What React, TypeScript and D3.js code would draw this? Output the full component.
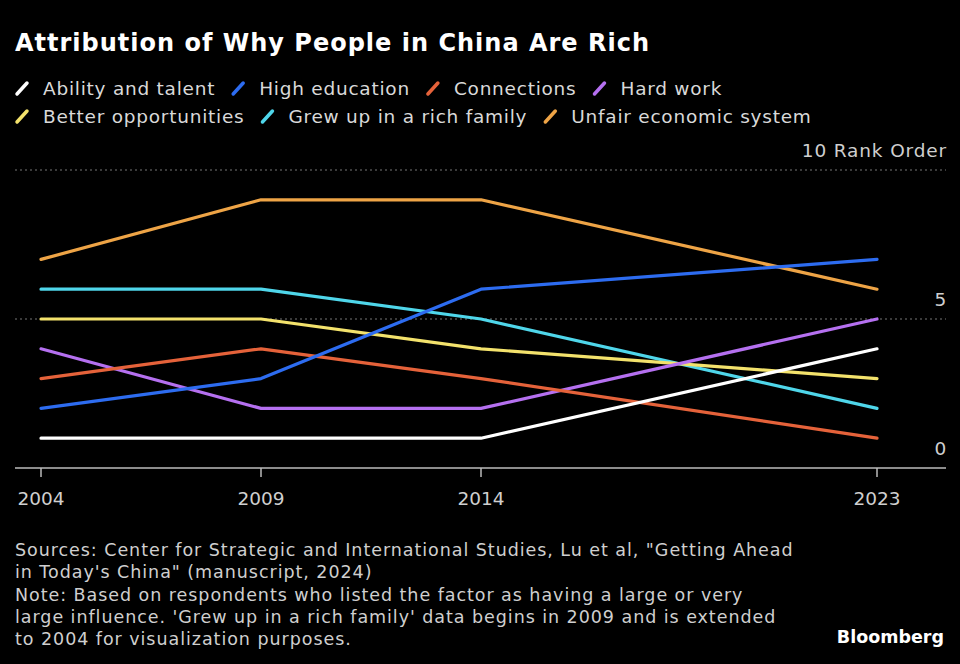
import React, { useEffect, useRef } from "react";
import * as d3 from "d3";

const years = [2004, 2009, 2014, 2023];
const seriesNames = [
  "Ability and talent",
  "High education",
  "Connections",
  "Hard work",
  "Better opportunities",
  "Grew up in a rich family",
  "Unfair economic system",
];
const seriesColors = ["#ffffff", "#2d6cf0", "#e5623a", "#b570f0", "#f3e26c", "#4fd6ea", "#eea446"];
const ability = [1, 1, 1, 4];
const education = [2, 3, 6, 7];
const connections = [3, 4, 3, 1];
const hardWork = [4, 2, 2, 5];
const betterOpp = [5, 5, 4, 3];
const richFamily = [6, 6, 5, 2];
const unfair = [7, 9, 9, 6];
const yTicks = [0, 5, 10];
const legendRows = [[0, 1, 2, 3], [4, 5, 6]];

const title = "Attribution of Why People in China Are Rich";
const notes = [
  "Sources: Center for Strategic and International Studies, Lu et al, \"Getting Ahead",
  "in Today's China\" (manuscript, 2024)",
  "Note: Based on respondents who listed the factor as having a large or very",
  "large influence. 'Grew up in a rich family' data begins in 2009 and is extended",
  "to 2004 for visualization purposes.",
];

const W = 960;
const H = 664;
const FONT = "'DejaVu Sans', sans-serif";

export default function App() {
  const ref = useRef<SVGSVGElement>(null);
  useEffect(() => {
    const svg = d3.select(ref.current);
    svg.selectAll("*").remove();
    const values = [ability, education, connections, hardWork, betterOpp, richFamily, unfair];

    svg.append("rect").attr("width", W).attr("height", H).attr("fill", "#000");

    svg.append("text").attr("x", 15).attr("y", 51).text(title)
      .attr("fill", "#fff").attr("font-family", FONT).attr("font-weight", 700).attr("font-size", 24)
      .attr("letter-spacing", 1.0);

    // legend
    const legendY = [88, 116];
    legendRows.forEach((row, ri) => {
      let x = 17;
      row.forEach((si) => {
        const g = svg.append("g").attr("transform", `translate(${x},${legendY[ri]})`);
        g.append("line").attr("x1", 0).attr("y1", 6).attr("x2", 10).attr("y2", -5)
          .attr("stroke", seriesColors[si]).attr("stroke-width", 3.5).attr("stroke-linecap", "round");
        const t = g.append("text").attr("x", 26).attr("y", 7).text(seriesNames[si])
          .attr("fill", "#d9d9d9").attr("font-family", FONT).attr("font-size", 18.5)
          .attr("letter-spacing", 0.75);
        const w = (t.node() as SVGTextElement).getComputedTextLength();
        x += 26 + w + 18;
      });
    });

    const x = d3.scaleLinear().domain([2004, 2023]).range([41, 877]);
    const y = d3.scaleLinear().domain([0, 10]).range([468, 170]);

    // grid
    yTicks.filter((v) => v > 0).forEach((v) => {
      svg.append("line").attr("x1", 15).attr("x2", 946).attr("y1", y(v)).attr("y2", y(v))
        .attr("stroke", "#777").attr("stroke-width", 1.2).attr("stroke-dasharray", "2,3");
    });
    yTicks.forEach((v) => {
      svg.append("text").attr("x", 947).attr("y", y(v) - 13).attr("text-anchor", "end")
        .text(v === 10 ? "10 Rank Order" : String(v))
        .attr("fill", "#cfcfcf").attr("font-family", FONT).attr("font-size", 18.5)
        .attr("letter-spacing", 0.85);
    });

    // x axis
    svg.append("line").attr("x1", 15).attr("x2", 946).attr("y1", y(0)).attr("y2", y(0))
      .attr("stroke", "#bbb").attr("stroke-width", 1.5);
    years.forEach((yr) => {
      svg.append("line").attr("x1", x(yr)).attr("x2", x(yr)).attr("y1", y(0)).attr("y2", y(0) + 9)
        .attr("stroke", "#bbb").attr("stroke-width", 1.5);
      svg.append("text").attr("x", x(yr)).attr("y", 505).attr("text-anchor", "middle").text(String(yr))
        .attr("fill", "#cfcfcf").attr("font-family", FONT).attr("font-size", 18.5);
    });

    const line = d3.line<number>().x((_, i) => x(years[i])).y((d) => y(d));
    const order = [6, 5, 4, 3, 2, 1, 0];
    order.forEach((si) => {
      svg.append("path").attr("d", line(values[si]) || "").attr("fill", "none")
        .attr("stroke", seriesColors[si]).attr("stroke-width", 3.2)
        .attr("stroke-linejoin", "round").attr("stroke-linecap", "round");
    });

    notes.forEach((n, i) => {
      svg.append("text").attr("x", 15).attr("y", 556 + i * 22.3).text(n)
        .attr("fill", "#cfcfcf").attr("font-family", FONT).attr("font-size", 17.5)
        .attr("letter-spacing", 0.95);
    });

    svg.append("text").attr("x", 944).attr("y", 643).attr("text-anchor", "end").text("Bloomberg")
      .attr("fill", "#fff").attr("font-family", FONT).attr("font-weight", 700).attr("font-size", 17.5);
  }, []);

  return <svg ref={ref} width={W} height={H} style={{ position: "absolute", left: 0, top: 0, display: "block" }} />;
}
